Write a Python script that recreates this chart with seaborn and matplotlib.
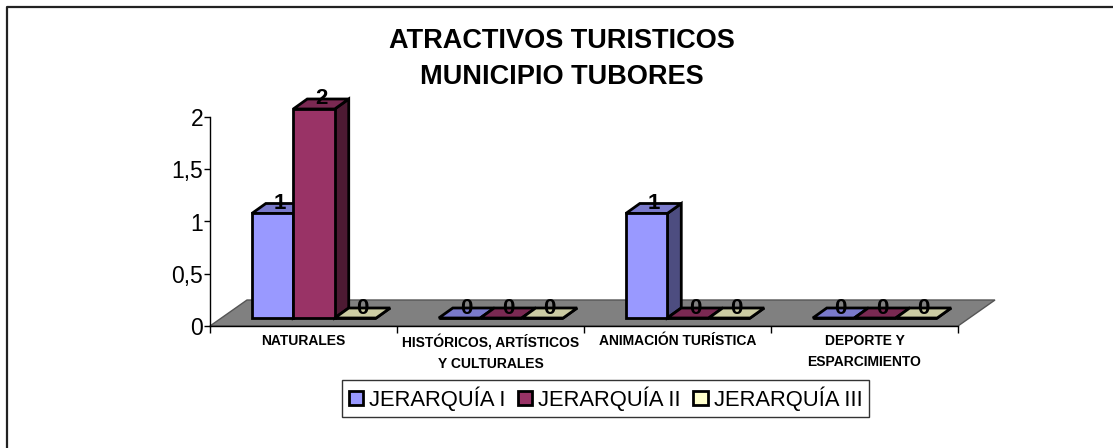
import matplotlib
matplotlib.use("Agg")
import matplotlib.pyplot as plt
from matplotlib.patches import Polygon
from matplotlib.transforms import Affine2D
import pandas as pd
import seaborn as sns

categories = ["NATURALES", "HISTÓRICOS, ARTÍSTICOS\nY CULTURALES",
              "ANIMACIÓN TURÍSTICA", "DEPORTE Y\nESPARCIMIENTO"]
jerarquia_1 = [1, 0, 1, 0]
jerarquia_2 = [2, 0, 0, 0]
jerarquia_3 = [0, 0, 0, 0]
series_names = ["JERARQUÍA I", "JERARQUÍA II", "JERARQUÍA III"]
y_ticks = [0, 0.5, 1, 1.5, 2]
y_tick_labels = ["0", "0,5", "1", "1,5", "2"]

front_colors = ["#9999FF", "#993366", "#FFFFCC"]
top_colors = ["#7A7ACC", "#7A2952", "#CCCCA3"]
side_colors = ["#4D4D80", "#4D1A33", "#808066"]

W, H = 1113, 448
sns.set_theme(style="white")
plt.rcParams["font.family"] = ["Liberation Sans", "DejaVu Sans"]

df = pd.DataFrame({"categoria": categories, series_names[0]: jerarquia_1,
                   series_names[1]: jerarquia_2, series_names[2]: jerarquia_3})
long_df = df.melt(id_vars="categoria", var_name="serie", value_name="valor")

fig = plt.figure(figsize=(W / 100, H / 100), dpi=100)
ax = fig.add_axes([210 / W, (H - 326) / H, 748 / W, 209 / H])

sns.barplot(data=long_df, x="categoria", y="valor", hue="serie", order=categories,
            hue_order=series_names, palette=front_colors, width=0.665, gap=0,
            saturation=1, dodge=True, ax=ax, legend=True)
ax.set_xlim(-0.5, 3.5)
ax.set_ylim(0, 2)
ax.set_xlabel("")
ax.set_ylabel("")

# 3d look: bars sit on a floor, shifted from the axis line
shift_x, shift_y = 10.5, 8
depth_x, depth_y = 14, 10
lw = 2.0
px = Affine2D().translate(shift_x, shift_y)
identity = Affine2D()

# floor
(x0, y0), (x1, _) = ax.transData.transform([(-0.5, 0), (3.5, 0)])
ax.add_patch(Polygon([(x0, y0), (x1, y0), (x1 + 37, y0 + 26), (x0 + 37, y0 + 26)],
                     closed=True, transform=identity, facecolor="#808080",
                     edgecolor="#555555", linewidth=1, zorder=0.5, clip_on=False))

z = 1.0
for c, container in enumerate(ax.containers):
    for bar, value in zip(container.patches, container.datavalues):
        bar.set_transform(ax.transData + px)
        bar.set_edgecolor("black")
        bar.set_linewidth(lw)
        bar.set_clip_on(False)
        (a, b), (d, e) = (ax.transData + px).transform(
            [(bar.get_x(), 0), (bar.get_x() + bar.get_width(), value)])
        top = Polygon([(a, e), (d, e), (d + depth_x, e + depth_y), (a + depth_x, e + depth_y)],
                      closed=True, transform=identity, facecolor=top_colors[c],
                      edgecolor="black", linewidth=lw, zorder=z, clip_on=False)
        side = Polygon([(d, b), (d + depth_x, b + depth_y), (d + depth_x, e + depth_y), (d, e)],
                       closed=True, transform=identity, facecolor=side_colors[c],
                       edgecolor="black", linewidth=lw, zorder=z, clip_on=False)
        ax.add_patch(side)
        ax.add_patch(top)
        bar.set_zorder(z + 0.1)
        ax.text((a + d) / 2 + depth_x / 2, e + depth_y, f"{value:g}", transform=identity,
                ha="center", va="center", fontsize=16, fontweight="bold", color="black",
                zorder=20, clip_on=False)
        z += 0.2

# axes
for name in ["top", "right"]:
    ax.spines[name].set_visible(False)
for name in ["left", "bottom"]:
    ax.spines[name].set_color("black")
    ax.spines[name].set_linewidth(1)
    ax.spines[name].set_zorder(0.6)

ax.set_yticks(y_ticks, y_tick_labels)
ax.set_xticks([i - 0.5 for i in range(len(categories) + 1)], [""] * (len(categories) + 1))
ax.tick_params(axis="y", left=True, length=4, width=1, color="black", labelsize=16.5,
               labelcolor="black", pad=1)
ax.tick_params(axis="x", bottom=True, length=5, width=1, color="black")
for i, label in enumerate(categories):
    ax.annotate(label, xy=(i, 0), xycoords=("data", "axes fraction"), xytext=(0, -8),
                textcoords="offset pixels", ha="center", va="top", fontsize=10,
                fontweight="bold", color="black", linespacing=1.6, annotation_clip=False)

fig.text(562 / W, 1 - 59 / H, "ATRACTIVOS TURISTICOS\nMUNICIPIO TUBORES", ha="center",
         va="center", fontsize=19.5, fontweight="bold", color="black", linespacing=1.5)

# legend
old = ax.get_legend()
handles = old.legend_handles
for h, col in zip(handles, front_colors):
    h.set_facecolor(col)
    h.set_edgecolor("black")
    h.set_linewidth(lw)
leg = ax.legend(handles, series_names, loc="center", mode="expand", ncol=3,
                bbox_to_anchor=(342 / W, 1 - 416 / H, 527 / W, 35 / H),
                bbox_transform=fig.transFigure, fontsize=15.8, frameon=True, fancybox=False,
                framealpha=1, edgecolor="#333333", handlelength=0.65, handleheight=0.65,
                handletextpad=0.28, columnspacing=0.3, borderpad=0.3, borderaxespad=0,
                labelcolor="black")
leg.get_frame().set_linewidth(1)

# outer frame, only left and top show
fig.add_artist(plt.Line2D([6.5 / W, 6.5 / W, 1], [0, 1 - 7.5 / H, 1 - 7.5 / H],
                          transform=fig.transFigure, color="#222222", linewidth=1.6))

fig.savefig("out.png", dpi=100, facecolor="white")
